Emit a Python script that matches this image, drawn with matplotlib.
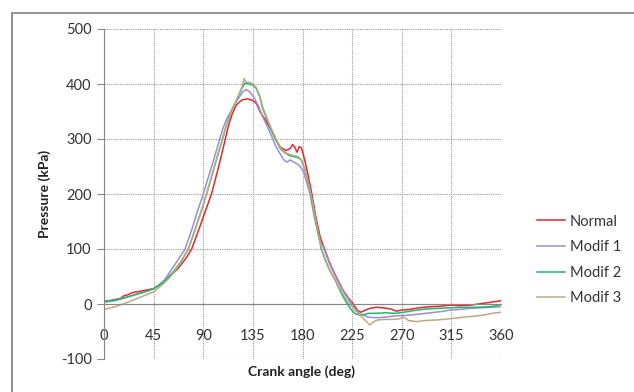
import matplotlib.pyplot as plt
from matplotlib.patches import Rectangle

# crank angle (deg) / pressure (kPa)
normal_x = [0, 5, 10, 15, 18, 22, 26, 30, 35, 40, 45, 50, 55, 60, 66, 70, 75, 79.5, 85, 90,
            97.5, 104, 110, 113, 116, 120, 125, 130, 135, 138, 142, 147, 152, 156, 160,
            165, 169, 171, 173, 175, 177, 179, 182, 185, 188, 192, 196, 200, 204, 208, 212,
            217, 222, 226, 230, 233, 236, 241, 247, 253, 260, 265, 270, 277, 285, 295, 305,
            314, 322, 332, 340, 350, 360]
normal_y = [5, 6, 8, 10, 15, 17, 21, 22, 24, 26, 28, 34, 42, 52, 62, 72, 85, 100, 130, 158,
            200, 250, 300, 325, 344, 362, 371, 373, 370, 365, 348, 333, 315, 298, 285,
            279, 283, 290, 285, 276, 286, 284, 262, 235, 205, 160, 122, 100, 78, 60, 44,
            24, 10, 0, -12, -15, -12, -8, -6, -7, -9, -13, -11, -10, -7, -5, -4,
            -2, -3, -2, 0, 3, 6]

modif1_x = [0, 10, 20, 30, 40, 45, 50, 55, 61, 67, 73.5, 80, 85, 90, 95, 100, 105,
            108, 111, 115, 120, 126, 129, 132, 136, 140, 144, 148, 152, 156, 160, 163, 166,
            169, 172, 175, 178, 181, 184, 187, 191, 195, 200, 204, 208, 212, 218, 224, 228,
            232, 236, 240, 247, 255, 262, 270, 278, 287, 296, 305, 314, 322, 332, 341, 350, 360]
modif1_y = [3, 6, 12, 18, 24, 28, 35, 44, 62, 80, 100, 138, 170, 200, 233, 266, 300,
            320, 335, 350, 368, 386, 390, 386, 376, 360, 340, 323, 305, 286, 272, 262, 258,
            262, 258, 255, 250, 240, 220, 198, 155, 120, 98, 76, 58, 42, 20, 2, -10,
            -18, -21, -24, -25, -24, -22, -21, -20, -18, -16, -14, -11, -10, -8, -7, -6, -5]

modif2_x = [0, 10, 20, 30, 40, 45, 50, 55, 60, 65, 70, 76.5, 82, 88, 93, 98, 103, 107.5,
            111, 115, 120, 125, 128, 131, 135, 138, 141, 144, 148, 152, 156, 160, 164,
            168, 172, 176, 179, 182, 185, 188, 192, 197, 201, 205, 209.5, 215, 220, 224, 228,
            232, 236, 240, 246, 255, 265, 275, 284, 292, 302, 313, 326, 338, 350, 356, 360]
modif2_y = [5, 7, 12, 18, 24, 28, 34, 42, 52, 64, 78, 100, 132, 168, 200, 235, 270, 300,
            325, 348, 370, 392, 402, 400, 398, 392, 378, 355, 335, 315, 298, 282, 275,
            270, 268, 266, 262, 245, 222, 195, 152, 100, 78, 60, 44, 20, 2, -10, -18,
            -20, -19, -17, -17, -16, -17, -14, -11, -9, -8, -7, -6, -6, -5, -3, -1]

modif3_x = [0, 10, 20, 30, 40, 45, 50, 55, 60, 65, 70, 76.5, 82, 88, 93, 98, 103, 107.5,
            111, 115, 120, 125, 127, 129, 132, 135, 138, 141, 144, 148, 152, 156, 160,
            164, 168, 172, 176, 179, 182, 185, 188, 192, 197, 201, 205, 210, 216, 222, 228,
            233, 237, 241, 244, 248, 255, 262, 268, 272, 276, 283, 292, 302, 313, 326, 336,
            344, 352, 360]
modif3_y = [-10, -5, 2, 10, 18, 22, 30, 39, 49, 62, 77, 100, 132, 168, 200, 235, 270, 300,
            325, 348, 370, 394, 410, 403, 403, 400, 394, 380, 358, 337, 318, 300, 284,
            276, 272, 270, 268, 262, 246, 222, 196, 154, 102, 80, 60, 42, 20, 2, -12,
            -22, -30, -38, -33, -29, -28, -28, -27, -24, -30, -32, -30, -29, -27, -24, -22,
            -20, -17, -15]

series = [
    ('Normal', normal_x, normal_y, '#e8262e'),
    ('Modif 1', modif1_x, modif1_y, '#9a8fd0'),
    ('Modif 2', modif2_x, modif2_y, '#22b573'),
    ('Modif 3', modif3_x, modif3_y, '#b8ab84'),
]

x_ticks = [0, 45, 90, 135, 180, 225, 270, 315, 360]
y_ticks = [-100, 0, 100, 200, 300, 400, 500]

plt.rcParams['font.family'] = ['Lato', 'DejaVu Sans']
plt.rcParams['axes.unicode_minus'] = False

fig = plt.figure(figsize=(6.34, 3.92), dpi=100)
fig.patches.append(Rectangle((12 / 634, -0.1), 1.2, 1.1 - 13 / 392,
                             transform=fig.transFigure, fill=False,
                             edgecolor='#8a8a8a', linewidth=1.3))
ax = fig.add_axes([104 / 634, 33 / 392, 397 / 634, 330 / 392])

for name, xs, ys, col in series:
    ax.plot(xs, ys, color=col, linewidth=1.1, label=name)

ax.set_xlim(0, 360)
ax.set_ylim(-100, 500)
ax.set_xticks(x_ticks)
ax.set_yticks(y_ticks)
ax.grid(True, color='#9a9a9a', linestyle=(0, (1, 1)), linewidth=0.8)
ax.set_axisbelow(True)

for s in ['top', 'right']:
    ax.spines[s].set_visible(False)
ax.spines['left'].set_color('#888888')
ax.spines['bottom'].set_color('#888888')
ax.spines['bottom'].set_position(('data', 0))

ax.tick_params(axis='y', length=5, color='#888888', labelsize=10.5, pad=4, labelcolor='#333333')
ax.tick_params(axis='x', length=0, labelsize=10.5, pad=18, labelcolor='#333333')

fig.text(302 / 634, 1 - 372 / 392, 'Crank angle (deg)', ha='center', va='center',
         fontsize=10, fontweight='bold', color='#222222')
fig.text(45 / 634, 1 - 194 / 392, 'Pressure (kPa)', ha='center', va='center',
         rotation=90, fontsize=10, fontweight='bold', color='#222222')

fig.legend(loc='center left', bbox_to_anchor=(537 / 634, 1 - 260 / 392), frameon=False,
           fontsize=10.5, handlelength=1.9, handletextpad=0.35, labelspacing=0.8,
           borderpad=0, borderaxespad=0, labelcolor='#333333')

fig.savefig('out.png', dpi=100)
